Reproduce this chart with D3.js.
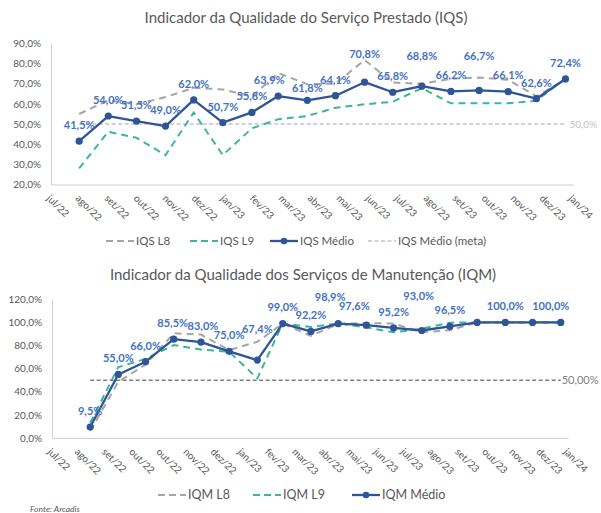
<!DOCTYPE html>
<html>
<head>
<meta charset="utf-8">
<script src="https://cdn.jsdelivr.net/npm/d3@7"></script>
<style>
  html, body { margin: 0; padding: 0; background: #fff; }
  svg { display: block; font-family: Lato, "Open Sans", sans-serif; }
</style>
</head>
<body>
<svg id="chart" width="601" height="513"></svg>
<script>
// Month of each observation (first day of month)
const obsMonths = ["2022-08","2022-09","2022-10","2022-11","2022-12","2023-01","2023-02","2023-03","2023-04",
                   "2023-05","2023-06","2023-07","2023-08","2023-09","2023-10","2023-11","2023-12","2024-01"];

// IQS — Indicador da Qualidade do Serviço Prestado (%)
const iqsL8    = [55.0, 61.8, 59.8, 63.4, 68.0, 67.2, 63.7, 75.3, 69.8, 70.1, 81.8, 70.6, 70.0, 72.5, 73.1, 72.0, 63.8, 72.2];
const iqsL9    = [28.0, 46.2, 43.2, 34.6, 55.7, 34.6, 47.9, 52.4, 54.0, 58.1, 59.8, 61.1, 67.8, 60.3, 60.3, 60.3, 61.6, 72.6];
const iqsMedio = [41.5, 54.0, 51.5, 49.0, 62.0, 50.7, 55.8, 63.9, 61.8, 64.1, 70.8, 65.8, 68.8, 66.2, 66.7, 66.1, 62.6, 72.4];
const iqsMeta  = 50.0;
const iqsTickLabels = ["jul/22","ago/22","set/22","out/22","nov/22","dez/22","jan/23","fev/23","mar/23","abr/23",
                       "mai/23","jun/23","jul/23","ago/23","set/23","out/23","nov/23","dez/23","jan/24"];
const iqsYTicks = [20, 30, 40, 50, 60, 70, 80, 90];

// IQM — Indicador da Qualidade dos Serviços de Manutenção (%)
const iqmL8    = [6.0, 48.7, 63.5, 90.6, 89.5, 76.1, 83.2, 99.0, 88.4, 98.6, 99.5, 99.0, 91.5, 93.2, 100, 100, 100, 100];
const iqmL9    = [13.0, 61.3, 68.5, 80.4, 76.5, 74.7, 51.6, 99.0, 96.0, 99.2, 95.7, 91.4, 94.5, 99.8, 100, 100, 100, 100];
const iqmMedio = [9.5, 55.0, 66.0, 85.5, 83.0, 75.0, 67.4, 99.0, 92.2, 98.9, 97.6, 95.2, 93.0, 96.5, 100.0, 100.0, 100.0, 100.0];
const iqmMeta  = 50.0;
const iqmTickLabels = ["jul/22","ago/22","set/22","out/22","out/22","nov/22","dez/22","jan/23","fev/23","mar/23",
                       "abr/23","mai/23","jun/23","jul/23","ago/23","set/23","out/23","nov/23","dez/23","jan/24"];
const iqmYTicks = [0, 20, 40, 60, 80, 100, 120];
// points that carry a value label in the IQM chart
const iqmLabelled = [0,1,2,3,4,5,6,7,8,9,10,11,12,13,15,17];

// ---- styling ----
const C = {
  medio: "#2F5597", label: "#4472C4", l8: "#A5A5A5", l9: "#3DB59D",
  metaLight: "#C4C4C4", metaDark: "#808080", axis: "#D0D0D0", text: "#595959"
};
// label nudges [dx, dy] relative to the default position above a point
const iqsLabelNudge = { 7: [-9, 0], 8: [0, 4], 10: [0, -12], 12: [0, -14], 14: [0, -18] };
const iqmLabelNudge = { 3: [-1, 0], 4: [2, 0], 6: [0, -15], 9: [-8, -11], 10: [-12, -3], 12: [-3, -18], 17: [-10, 0] };

const parse = d3.timeParse("%Y-%m");
const dates = obsMonths.map(parse);
const fmtPct = (v, digits) => v.toFixed(digits).replace(".", ",") + "%";

const svg = d3.select("#chart");

function drawPanel(cfg) {
  const g = svg.append("g");
  const [x0, x1] = cfg.xRange, [yB, yT] = cfg.yRange;

  const x = d3.scaleTime().domain(cfg.xDomain).range(cfg.xRange);
  const y = d3.scaleLinear().domain([cfg.yTicks[0], cfg.yTicks[cfg.yTicks.length - 1]]).range(cfg.yRange);
  const xTick = d3.scaleLinear().domain([0, cfg.tickLabels.length - 1]).range(cfg.xRange);

  // title
  g.append("text").attr("x", cfg.titleX).attr("y", cfg.titleY).attr("text-anchor", "middle")
    .attr("fill", C.text).style("font-size", "15px").text(cfg.title);

  // y axis (labels only, plus vertical axis line)
  const yAxis = d3.axisLeft(y).tickValues(cfg.yTicks).tickSize(0).tickPadding(10)
    .tickFormat(v => fmtPct(v, 1));
  const ya = g.append("g").attr("transform", `translate(${x0},0)`).call(yAxis);
  ya.select(".domain").attr("stroke", C.axis).attr("stroke-width", 1);
  ya.selectAll("text").attr("fill", C.text).style("font-size", "10px").style("font-family", "Lato, sans-serif");

  // x axis with rotated month labels
  const xAxis = d3.axisBottom(xTick).tickValues(d3.range(cfg.tickLabels.length)).tickSize(0)
    .tickFormat(i => cfg.tickLabels[i]);
  const xa = g.append("g").attr("transform", `translate(0,${yB})`).call(xAxis);
  xa.select(".domain").attr("stroke", C.axis).attr("stroke-width", 1.2);
  xa.selectAll("text")
    .attr("fill", C.text).style("font-size", "10px").style("font-family", "Lato, sans-serif")
    .attr("text-anchor", "start").attr("dy", "0.35em")
    .attr("transform", "translate(-3,12) rotate(45)")
    .attr("x", 0).attr("y", 0);

  const line = vals => d3.line().x((d, i) => x(dates[i])).y(d => y(d))(vals);

  // goal line
  g.append("path").attr("d", line(dates.map(() => cfg.meta)))
    .attr("fill", "none").attr("stroke", cfg.metaColor).attr("stroke-width", 1.6)
    .attr("stroke-dasharray", "4,2.5");
  g.append("text").attr("x", x(dates[dates.length - 1]) + cfg.metaLabelDx).attr("y", y(cfg.meta))
    .attr("dy", "0.35em").attr("fill", cfg.metaColor).style("font-size", cfg.metaFont)
    .text(fmtPct(cfg.meta, cfg.metaDigits));

  // L8 and L9
  g.append("path").attr("d", line(cfg.l8)).attr("fill", "none").attr("stroke", C.l8)
    .attr("stroke-width", 2).attr("stroke-dasharray", "7,5");
  g.append("path").attr("d", line(cfg.l9)).attr("fill", "none").attr("stroke", C.l9)
    .attr("stroke-width", 2).attr("stroke-dasharray", "7,5");

  // average line with markers
  g.append("path").attr("d", line(cfg.medio)).attr("fill", "none").attr("stroke", C.medio)
    .attr("stroke-width", 2.3).attr("stroke-linejoin", "round");
  g.selectAll("circle.m").data(cfg.medio).join("circle").attr("class", "m")
    .attr("cx", (d, i) => x(dates[i])).attr("cy", d => y(d)).attr("r", 3.6).attr("fill", C.medio);

  // value labels
  const idx = cfg.labelled || cfg.medio.map((d, i) => i);
  g.selectAll("text.v").data(idx).join("text").attr("class", "v")
    .attr("x", i => x(dates[i]) + (cfg.nudge[i] ? cfg.nudge[i][0] : 0))
    .attr("y", i => y(cfg.medio[i]) - 16 + (cfg.nudge[i] ? cfg.nudge[i][1] : 0))
    .attr("dy", "0.35em").attr("text-anchor", "middle")
    .attr("fill", C.label).style("font-size", "11px").style("font-weight", "bold")
    .text(i => fmtPct(cfg.medio[i], 1));

  // legend
  const lg = g.append("g");
  cfg.legend.forEach(it => {
    const gi = lg.append("g").attr("transform", `translate(${it.x},${cfg.legendY})`);
    if (it.kind === "dot") {
      gi.append("line").attr("x1", 0).attr("x2", 28).attr("stroke", C.medio).attr("stroke-width", 2.3);
      gi.append("circle").attr("cx", 14).attr("r", 3.3).attr("fill", C.medio);
    } else {
      gi.append("line").attr("x1", 0).attr("x2", 28).attr("stroke", it.color)
        .attr("stroke-width", it.kind === "meta" ? 1.6 : 2)
        .attr("stroke-dasharray", it.kind === "meta" ? "4,2.5" : "7,4");
    }
    gi.append("text").attr("x", 30).attr("dy", "0.35em").attr("fill", C.text)
      .style("font-size", cfg.legendFont).text(it.name);
  });
}

drawPanel({
  title: "Indicador da Qualidade do Serviço Prestado (IQS)", titleX: 306, titleY: 23,
  xDomain: [new Date(2022, 6, 2), new Date(2024, 0, 9)], xRange: [51, 573],
  yRange: [184.5, 43.5], yTicks: iqsYTicks, tickLabels: iqsTickLabels,
  l8: iqsL8, l9: iqsL9, medio: iqsMedio, meta: iqsMeta, metaColor: C.metaLight, metaDigits: 1,
  metaLabelDx: 4, metaFont: "10px", nudge: iqsLabelNudge, legendY: 241, legendFont: "11.5px",
  legend: [
    { name: "IQS L8", color: C.l8, kind: "dash", x: 106 },
    { name: "IQS L9", color: C.l9, kind: "dash", x: 190 },
    { name: "IQS Médio", kind: "dot", x: 270 },
    { name: "IQS Médio (meta)", color: C.metaLight, kind: "meta", x: 368 }
  ]
});

drawPanel({
  title: "Indicador da Qualidade dos Serviços de Manutenção (IQM)", titleX: 303, titleY: 280,
  xDomain: [new Date(2022, 5, 20), new Date(2024, 0, 9)], xRange: [52, 568],
  yRange: [438, 299.3], yTicks: iqmYTicks, tickLabels: iqmTickLabels,
  l8: iqmL8, l9: iqmL9, medio: iqmMedio, meta: iqmMeta, metaColor: C.metaDark, metaDigits: 2,
  metaLabelDx: 1, metaFont: "11px", nudge: iqmLabelNudge, labelled: iqmLabelled, legendY: 495, legendFont: "12.5px",
  legend: [
    { name: "IQM L8", color: C.l8, kind: "dash", x: 158 },
    { name: "IQM L9", color: C.l9, kind: "dash", x: 253 },
    { name: "IQM Médio", kind: "dot", x: 352 }
  ]
});

// source note
svg.append("text").attr("x", 30).attr("y", 512).attr("fill", C.text)
  .style("font-size", "8.5px").style("font-style", "italic").text("Fonte: Arcadis");
</script>
</body>
</html>
